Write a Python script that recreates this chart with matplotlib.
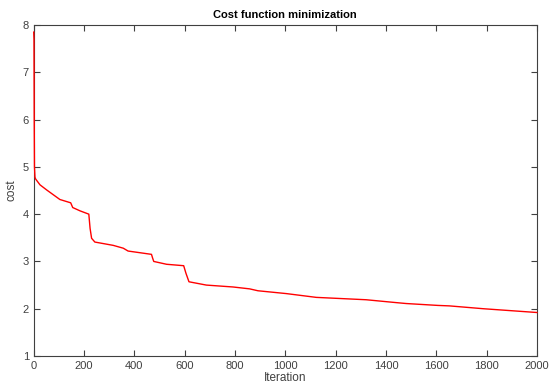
import numpy as np
import matplotlib
matplotlib.use("Agg")
import matplotlib.pyplot as plt

plt.rcParams['font.family'] = ['Liberation Sans', 'DejaVu Sans']

# cost values
iteration = [0, 1, 2, 3, 5, 8, 25, 52, 78, 104, 147, 155, 184, 219, 224, 230,
             243, 316, 356, 375, 468, 472, 477, 528, 596, 605, 617, 686, 792,
             858, 891, 1004, 1123, 1321, 1439, 1480, 1606, 1652, 1787, 2000]
cost = [7.85, 7.7, 6.0, 5.0, 4.78, 4.74, 4.62, 4.51, 4.41, 4.31, 4.24, 4.14,
        4.07, 4.0, 3.7, 3.49, 3.41, 3.34, 3.28, 3.22, 3.15, 3.08, 3.0, 2.94,
        2.91, 2.75, 2.57, 2.50, 2.46, 2.42, 2.38, 2.32, 2.24, 2.19, 2.13,
        2.11, 2.07, 2.06, 2.0, 1.92]

fig = plt.figure(figsize=(5.5, 3.85), dpi=100)
ax = fig.add_axes([0.0613, 0.0753, 0.9150, 0.8597])

ax.plot(iteration, cost, color='red', linewidth=1.0, clip_on=False, zorder=3)

ax.set_xlim(0, 2000)
ax.set_ylim(1, 8)
ax.set_xticks(np.arange(0, 2001, 200))
ax.set_yticks(np.arange(1, 9, 1))
ax.tick_params(direction='in', top=True, right=True, length=4, width=0.8,
               colors='#404040', labelsize=8, labelcolor='#404040')
for s in ax.spines.values():
    s.set_color('#404040')
    s.set_linewidth(0.8)
    s.set_zorder(2)

ax.set_title('Cost function minimization', fontsize=8, fontweight='bold', pad=5)
ax.set_xlabel('Iteration', fontsize=8.5, color='#404040', labelpad=1)
ax.set_ylabel('cost', fontsize=8.5, color='#404040', labelpad=4)

plt.savefig('out.png', dpi=100)
